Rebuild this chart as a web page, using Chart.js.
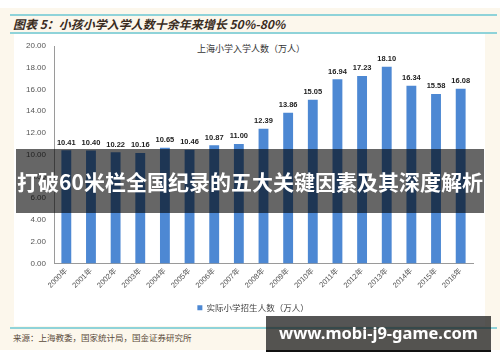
<!DOCTYPE html>
<html>
<head>
<meta charset="utf-8">
<script src="https://cdn.jsdelivr.net/npm/chart.js@4.4.1/dist/chart.umd.min.js"></script>
<style>
  html, body { margin: 0; padding: 0; background: #ffffff; }
  #frame { position: relative; width: 500px; height: 362px; overflow: hidden; font-family: "Noto Sans CJK SC", sans-serif; }
  .cream { position: absolute; left: 0; top: 8px; width: 500px; height: 342px; background: #fcf7ec; }
  .panel { position: absolute; left: 14px; top: 34px; width: 471px; height: 292px; background: #ffffff; }
  .rule { position: absolute; left: 10px; width: 487px; height: 2px; background: #8fd3d9; }
  .heading { position: absolute; left: 13px; top: 15px; font-size: 12px; font-weight: bold; font-style: italic; color: #3a2c1e; white-space: nowrap; }
  .subtitle { position: absolute; left: 197px; top: 42px; font-size: 9px; color: #333; white-space: nowrap; }
  .source { position: absolute; left: 13px; top: 331px; font-size: 8.5px; color: #5a4a3a; white-space: nowrap; }
  #chartBox { position: absolute; left: 0; top: 0; width: 500px; height: 330px; }
  .band { position: absolute; left: 16px; top: 149px; width: 468px; height: 64px; background: rgba(0,0,0,0.6);
          color: #fff; font-size: 21px; font-weight: bold; line-height: 64px; text-align: center; white-space: nowrap; }
  .site { position: absolute; left: 266px; top: 316px; width: 225px; height: 34px; background: rgba(20,20,20,0.72);
          border-bottom: 2px solid #111; color: #fff; font-family: "Noto Sans", sans-serif; font-size: 16.5px; font-weight: bold;
          line-height: 34px; text-align: center; white-space: nowrap; }
</style>
</head>
<body>
<div id="frame">
  <div class="cream"></div>
  <div class="panel"></div>
  <div class="rule" style="top:14px"></div>
  <div class="rule" style="top:32px"></div>
  <div class="rule" style="top:327px"></div>
  <div class="heading">图表 5：小孩小学入学人数十余年来增长 50%-80%</div>
  <div class="subtitle">上海小学入学人数（万人）</div>
  <div id="chartBox"><canvas id="enrolChart"></canvas></div>
  <div class="source">来源：上海教委，国家统计局，国金证券研究所</div>
  <div class="band">打破60米栏全国纪录的五大关键因素及其深度解析</div>
  <div class="site">www.mobi-j9-game.com</div>
</div>
<script>
// categories and values
const years = ['2000年', '2001年', '2002年', '2003年', '2004年', '2005年', '2006年', '2007年', '2008年',
               '2009年', '2010年', '2011年', '2012年', '2013年', '2014年', '2015年', '2016年'];
const enrolment = [10.41, 10.40, 10.22, 10.16, 10.65, 10.46, 10.87, 11.00, 12.39,
                   13.86, 15.05, 16.94, 17.23, 18.10, 16.34, 15.58, 16.08];
const yTicks = [0, 2, 4, 6, 8, 10, 12, 14, 16, 18, 20];

// value labels above each bar
const valueLabels = {
    id: 'valueLabels',
    afterDatasetsDraw(chart) {
        const ctx = chart.ctx;
        const meta = chart.getDatasetMeta(0);
        ctx.save();
        ctx.font = 'bold 7.5px "Liberation Sans Narrow", "Liberation Sans", sans-serif';
        ctx.fillStyle = '#222';
        ctx.textAlign = 'center';
        ctx.textBaseline = 'bottom';
        meta.data.forEach((bar, i) => {
            ctx.fillText(enrolment[i].toFixed(2), bar.x, bar.y - 4);
        });
        ctx.restore();
    }
};

document.addEventListener("DOMContentLoaded", () => {
    const ctx = document.getElementById('enrolChart').getContext('2d');
    new Chart(ctx, {
        type: 'bar',
        data: {
            labels: years,
            datasets: [{
                label: '实际小学招生人数（万人）',
                data: enrolment,
                backgroundColor: '#4d88d3',
                borderWidth: 0,
                barPercentage: 0.4,
                categoryPercentage: 1
            }]
        },
        options: {
            responsive: true,
            maintainAspectRatio: false,
            animation: false,
            layout: { padding: { top: 46, right: 12, left: 18, bottom: 8 } },
            plugins: {
                legend: {
                    position: 'bottom',
                    labels: {
                        boxWidth: 5, boxHeight: 5, padding: 6, color: '#444',
                        font: { size: 8.5, family: '"Noto Sans CJK SC", sans-serif' }
                    }
                },
                tooltip: { enabled: false }
            },
            scales: {
                x: {
                    grid: { display: false, drawTicks: false },
                    border: { display: true, color: '#9a9a9a' },
                    ticks: {
                        autoSkip: false, minRotation: 45, maxRotation: 45, padding: 3, color: '#555',
                        font: { size: 7.5, family: '"Liberation Sans", "Noto Sans CJK SC", sans-serif' }
                    },
                    afterFit(scale) { scale.height = 34; }
                },
                y: {
                    min: 0,
                    max: 20,
                    grid: { display: false, drawTicks: false },
                    border: { display: true, color: '#9a9a9a' },
                    afterBuildTicks(scale) { scale.ticks = yTicks.map(v => ({ value: v })); },
                    ticks: {
                        padding: 8, color: '#555',
                        font: { size: 8, family: '"Liberation Sans", sans-serif' },
                        callback: v => v.toFixed(2)
                    },
                    afterFit(scale) { scale.width = 36; }
                },
                // empty spacer on the right so the legend sits where the original has it
                yRight: {
                    position: 'right',
                    min: 0,
                    max: 20,
                    grid: { display: false, drawTicks: false },
                    border: { display: false },
                    ticks: { display: false },
                    afterFit(scale) { scale.width = 15; }
                }
            }
        },
        plugins: [valueLabels]
    });
});
</script>
</body>
</html>
